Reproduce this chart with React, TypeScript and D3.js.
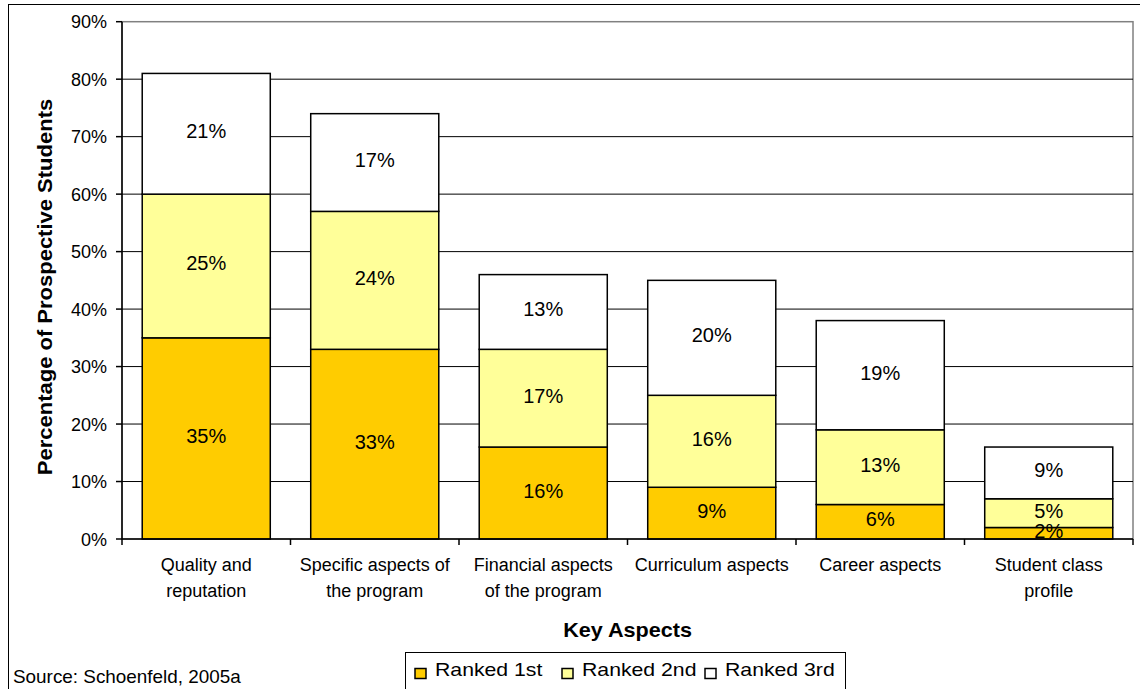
import React from "react";
import * as d3 from "d3";

const categories = [
  "Quality and|reputation",
  "Specific aspects of|the program",
  "Financial aspects|of the program",
  "Curriculum aspects",
  "Career aspects",
  "Student class|profile",
];
const seriesNames = ["Ranked 1st", "Ranked 2nd", "Ranked 3rd"];
const ranked1st = [35, 33, 16, 9, 6, 2];
const ranked2nd = [25, 24, 17, 16, 13, 5];
const ranked3rd = [21, 17, 13, 20, 19, 9];
const seriesColors = ["#FFCC00", "#FFFF99", "#FFFFFF"];
const yTicks = [0, 10, 20, 30, 40, 50, 60, 70, 80, 90];

const FONT = "'Liberation Sans', Arial, Helvetica, sans-serif";

export default function App() {
  const W = 1140;
  const H = 689;
  const left = 122;
  const right = 1133;
  const top = 21.7;
  const bottom = 539;

  const x = d3
    .scaleBand<number>()
    .domain(d3.range(categories.length))
    .range([left, right])
    .paddingInner(0.24)
    .paddingOuter(0.12);
  const y = d3.scaleLinear().domain([0, 90]).range([bottom, top]);

  const rows = categories.map((c, i) => ({
    key: i,
    r1: ranked1st[i],
    r2: ranked2nd[i],
    r3: ranked3rd[i],
  }));
  const stack = d3.stack<any>().keys(["r1", "r2", "r3"])(rows);
  const step = x.step();
  const boundaries = d3.range(categories.length + 1).map((i) => left + i * step);

  return (
    <svg
      width={W}
      height={H}
      style={{ position: "absolute", left: 0, top: 0, background: "#fff" }}
      fontFamily={FONT}
    >
      <rect x={0} y={0} width={W} height={H} fill="#fff" />
      {/* outer border */}
      <rect x={8.5} y={4.5} width={1200} height={800} fill="none" stroke="#000" strokeWidth={1} />

      {/* plot area border */}
      <rect x={left} y={top} width={right - left} height={bottom - top} fill="#fff" stroke="#808080" strokeWidth={1.5} />

      {/* gridlines */}
      {yTicks.slice(1, -1).map((t) => (
        <line key={t} x1={left} x2={right} y1={y(t)} y2={y(t)} stroke="#000" strokeWidth={1} />
      ))}

      {/* bars */}
      {stack.map((s, si) =>
        s.map((d, i) => (
          <rect
            key={`${si}-${i}`}
            x={x(i)!}
            y={y(d[1])}
            width={x.bandwidth()}
            height={y(d[0]) - y(d[1])}
            fill={seriesColors[si]}
            stroke="#000"
            strokeWidth={1.5}
          />
        ))
      )}

      {/* bar labels */}
      {stack.map((s, si) =>
        s.map((d, i) => (
          <text
            key={`l${si}-${i}`}
            x={x(i)! + x.bandwidth() / 2}
            y={(y(d[0]) + y(d[1])) / 2 + 4.5}
            textAnchor="middle"
            fontSize={20}
            fill="#000"
          >
            {`${d[1] - d[0]}%`}
          </text>
        ))
      )}

      {/* axes */}
      <line x1={left} x2={left} y1={top} y2={bottom} stroke="#000" strokeWidth={1.5} />
      <line x1={left} x2={right} y1={bottom} y2={bottom} stroke="#000" strokeWidth={1.5} />
      {yTicks.map((t) => (
        <g key={t}>
          <line x1={left - 6} x2={left} y1={y(t)} y2={y(t)} stroke="#000" strokeWidth={1.5} />
          <text x={107} y={y(t) + 6.5} textAnchor="end" fontSize={18} fill="#000">
            {`${t}%`}
          </text>
        </g>
      ))}
      {boundaries.map((bx, i) => (
        <line key={i} x1={bx} x2={bx} y1={bottom} y2={bottom + 6} stroke="#000" strokeWidth={1.5} />
      ))}

      {/* category labels */}
      {categories.map((c, i) => (
        <text key={c} textAnchor="middle" fontSize={18} fill="#000">
          {c.split("|").map((ln, li) => (
            <tspan key={li} x={x(i)! + x.bandwidth() / 2} y={571 + li * 26}>
              {ln}
            </tspan>
          ))}
        </text>
      ))}

      {/* axis titles */}
      <text
        transform={`translate(52,287) rotate(-90) scale(1.1,1)`}
        textAnchor="middle"
        fontSize={20}
        fontWeight="bold"
        fill="#000"
      >
        Percentage of Prospective Students
      </text>
      <text
        transform={`translate(${(left + right) / 2},637) scale(1.08,1)`}
        textAnchor="middle"
        fontSize={20}
        fontWeight="bold"
        fill="#000"
      >
        Key Aspects
      </text>

      {/* source */}
      <text transform="translate(13,683) scale(1.05,1)" fontSize={18} fill="#000">
        Source: Schoenfeld, 2005a
      </text>

      {/* legend */}
      <rect x={405.5} y={652.5} width={440} height={60} fill="#fff" stroke="#000" strokeWidth={1} />
      {seriesNames.map((n, i) => {
        const sx = [415, 562, 705][i];
        return (
          <g key={n}>
            <rect x={sx} y={668.5} width={11} height={10} fill={seriesColors[i]} stroke="#000" strokeWidth={1.5} />
            <text
              transform={`translate(${sx + 20},676) scale(1.18,1)`}
              fontSize={18}
              fill="#000"
            >
              {n}
            </text>
          </g>
        );
      })}
    </svg>
  );
}
